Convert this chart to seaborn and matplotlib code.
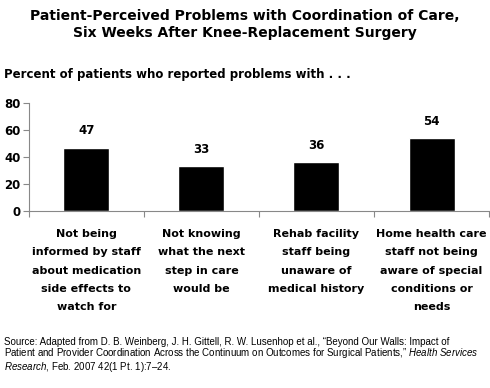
import matplotlib
matplotlib.use("Agg")
import matplotlib.pyplot as plt
import seaborn as sns
import pandas as pd

# Chart data
categories = [
    "Not being\ninformed by staff\nabout medication\nside effects to\nwatch for",
    "Not knowing\nwhat the next\nstep in care\nwould be",
    "Rehab facility\nstaff being\nunaware of\nmedical history",
    "Home health care\nstaff not being\naware of special\nconditions or\nneeds",
]
values = [47, 33, 36, 54]
y_ticks = [0, 20, 40, 60, 80]

df = pd.DataFrame({"problem": categories, "percent": values})

sns.set_style("white")
plt.rcParams["font.family"] = ["DejaVu Sans"]
plt.rcParams["text.color"] = "black"
plt.rcParams["xtick.color"] = "black"
plt.rcParams["ytick.color"] = "black"
plt.rcParams["mathtext.fontset"] = "custom"
plt.rcParams["mathtext.it"] = "Liberation Sans:italic"
plt.rcParams["mathtext.rm"] = "Liberation Sans"

fig = plt.figure(figsize=(4.9, 3.88), dpi=100)
ax = fig.add_axes([0.059, 0.457, 0.939, 0.277])

sns.barplot(data=df, x="problem", y="percent", color="black", width=0.4,
            saturation=1, ax=ax)

# value labels above bars
for i, v in enumerate(values):
    ax.text(i, v + 7.5, str(v), ha="center", va="bottom", fontsize=8.5,
            fontweight="bold")

ax.set_ylim(0, 80)
ax.set_xlim(-0.5, 3.5)
ax.set_yticks(y_ticks)
ax.set_yticklabels([str(t) for t in y_ticks], fontsize=8.5, fontweight="bold")
ax.set_xticks(range(len(categories)))
ax.set_xticklabels(categories, fontsize=8, fontweight="bold", linespacing=2.05,
                   va="top")
ax.set_xticks([-0.5, 0.5, 1.5, 2.5, 3.5], minor=True)
ax.tick_params(axis="x", which="major", bottom=True, length=0, pad=13)
ax.tick_params(axis="x", which="minor", bottom=True, length=4, width=0.8,
               color="#888888", direction="out")
ax.tick_params(axis="y", left=True, length=4, width=0.8, color="#888888",
               direction="out", pad=2)
ax.set_xlabel("")
ax.set_ylabel("")

sns.despine(ax=ax, top=True, right=True)
for side in ["left", "bottom"]:
    ax.spines[side].set_color("#888888")
    ax.spines[side].set_linewidth(0.8)

fig.text(0.5, 0.978, "Patient-Perceived Problems with Coordination of Care,\nSix Weeks After Knee-Replacement Surgery",
         ha="center", va="top", fontsize=10, fontweight="bold", linespacing=1.3)
fig.text(0.008, 0.807, "Percent of patients who reported problems with . . .",
         ha="left", va="center", fontsize=8.5, fontweight="bold")

fig.text(0.008, 0.132, "Source: Adapted from D. B. Weinberg, J. H. Gittell, R. W. Lusenhop et al., \u201cBeyond Our Walls: Impact of\n"
         "Patient and Provider Coordination Across the Continuum on Outcomes for Surgical Patients,\u201d $\\it{Health\\ Services}$\n"
         "$\\it{Research}$, Feb. 2007 42(1 Pt. 1):7\u201324.",
         ha="left", va="top", fontsize=7.0, family="Liberation Sans", linespacing=0.95)

fig.savefig("out.png", dpi=100, facecolor="white")
